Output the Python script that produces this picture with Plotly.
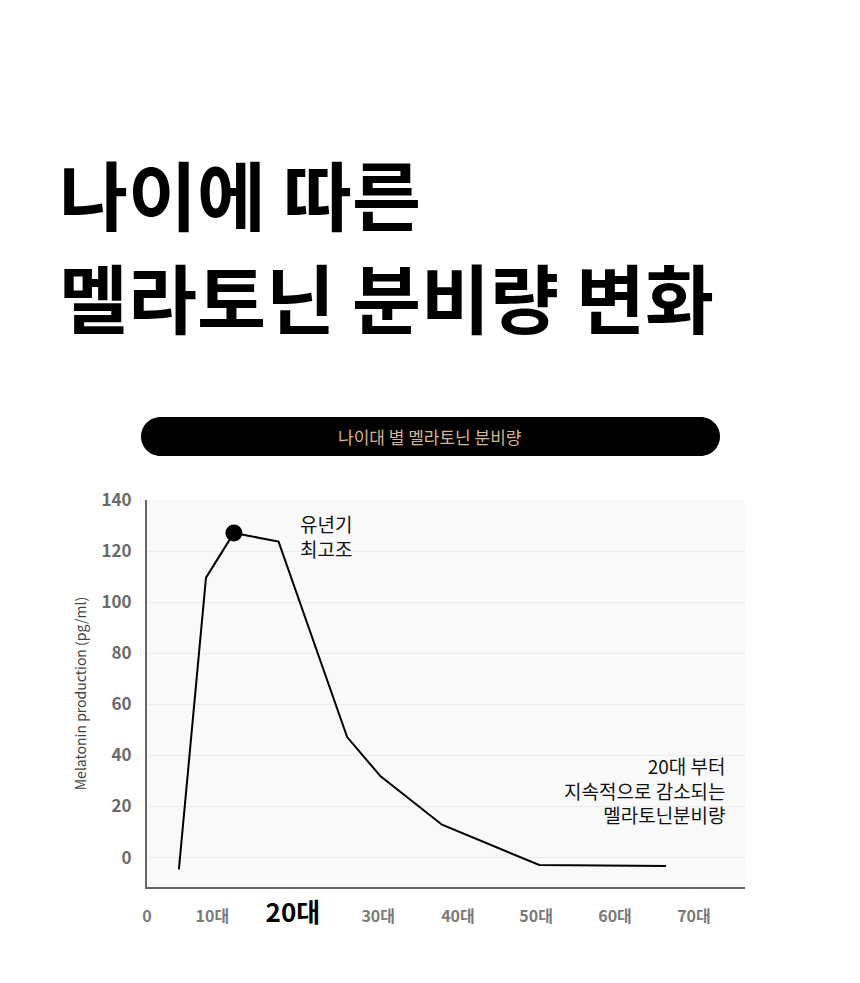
import plotly.graph_objects as go

# 데이터 (나이, 멜라토닌 분비량 pg/ml)
age = [4.0, 7.4, 10.9, 16.5, 25.1, 29.3, 37.0, 49.2, 65.1]
melatonin = [-4.6, 109.6, 127.1, 123.7, 47.2, 31.8, 12.9, -2.9, -3.3]

peak_age = [10.9]
peak_value = [127.1]

tick_pos = [0, 8.2, 18.3, 29, 39, 48.8, 58.7, 68.6]
tick_labels = ["0", "10대", "20대", "30대", "40대", "50대", "60대", "70대"]
y_ticks = [0, 20, 40, 60, 80, 100, 120, 140]

FONT = "Noto Sans CJK KR"

# 플롯 영역 (화면 픽셀 기준)
PX0, PX1, PY0, PY1 = 147, 745, 500, 887


def px(x):
    return (x - PX0) / (PX1 - PX0)


def py(y):
    return (PY1 - y) / (PY1 - PY0)


ticktext = []
for t in tick_labels:
    if t == "20대":
        ticktext.append("<span style='font-size:26px;color:#000000'>" + t + "</span>")
    else:
        ticktext.append(t)

fig = go.Figure()
fig.add_trace(go.Scatter(x=age, y=melatonin, mode="lines",
                         line=dict(color="#000000", width=2), showlegend=False))
fig.add_trace(go.Scatter(x=peak_age, y=peak_value, mode="markers",
                         marker=dict(color="#000000", size=17), showlegend=False))

# 제목
fig.add_annotation(xref="paper", yref="paper", x=px(57), y=py(192), xanchor="left", yanchor="middle",
                   text="<b>나이에 따른</b>", showarrow=False,
                   font=dict(family=FONT, size=75, color="#000000"))
fig.add_annotation(xref="paper", yref="paper", x=px(57), y=py(295), xanchor="left", yanchor="middle",
                   text="<b>멜라토닌 분비량 변화</b>", showarrow=False,
                   font=dict(family=FONT, size=75, color="#000000"))

# 검은 알약 모양 배경
x0, x1, yt, yb = px(141), px(720), py(417), py(456)
rx, ym = px(141 + 19.5) - x0, (yt + yb) / 2
ry = (yt - yb) / 2
k = 0.5523
path = (f"M {x0+rx},{yt} L {x1-rx},{yt} "
        f"C {x1-rx+k*rx},{yt} {x1},{ym+k*ry} {x1},{ym} "
        f"C {x1},{ym-k*ry} {x1-rx+k*rx},{yb} {x1-rx},{yb} "
        f"L {x0+rx},{yb} "
        f"C {x0+rx-k*rx},{yb} {x0},{ym-k*ry} {x0},{ym} "
        f"C {x0},{ym+k*ry} {x0+rx-k*rx},{yt} {x0+rx},{yt} Z")
fig.add_shape(type="path", xref="paper", yref="paper", path=path,
              fillcolor="#000000", line=dict(width=0))
fig.add_annotation(xref="paper", yref="paper", x=px(430), y=ym, xanchor="center", yanchor="middle",
                   text="나이대 별 멜라토닌 분비량", showarrow=False,
                   font=dict(family=FONT, size=17, color="#d6b48f"))

# 설명 텍스트
fig.add_annotation(x=19.0, y=125.9, xanchor="left", yanchor="middle",
                   text="유년기<br>최고조", showarrow=False, align="left",
                   font=dict(family=FONT, size=19, color="#111111"))
fig.add_annotation(x=72.9, y=26.4, xanchor="right", yanchor="middle",
                   text="20대 부터<br>지속적으로 감소되는<br>멜라토닌분비량", showarrow=False, align="right",
                   font=dict(family=FONT, size=19, color="#111111"))

# 페이지 기본 여백(8px) 보정
fig.update_layout(
    width=860, height=983,
    margin=dict(l=PX0 - 8, r=860 - PX1 + 8, t=PY0 - 8, b=983 - PY1 + 8),
    paper_bgcolor="#ffffff",
    plot_bgcolor="#f9f9f9",
    font=dict(family=FONT),
    xaxis=dict(range=[0, 75], tickvals=tick_pos, ticktext=ticktext,
               showgrid=False, zeroline=False,
               showline=True, linecolor="#666666", linewidth=2,
               ticks="outside", ticklen=14, tickcolor="rgba(0,0,0,0)",
               tickfont=dict(family=FONT, size=16, color="#7a7a7a", weight="bold")),
    yaxis=dict(range=[-11.5, 140], tickvals=y_ticks,
               showgrid=True, gridcolor="#ececec", gridwidth=1, zeroline=False,
               showline=True, linecolor="#666666", linewidth=2,
               ticks="outside", ticklen=10, tickcolor="rgba(0,0,0,0)",
               tickfont=dict(family=FONT, size=17, color="#6a6a6a", weight="bold"),
               title=dict(text="Melatonin production (pg/ml)", standoff=12,
                          font=dict(family=FONT, size=14, color="#444444"))),
)

fig.write_html("out.html")
